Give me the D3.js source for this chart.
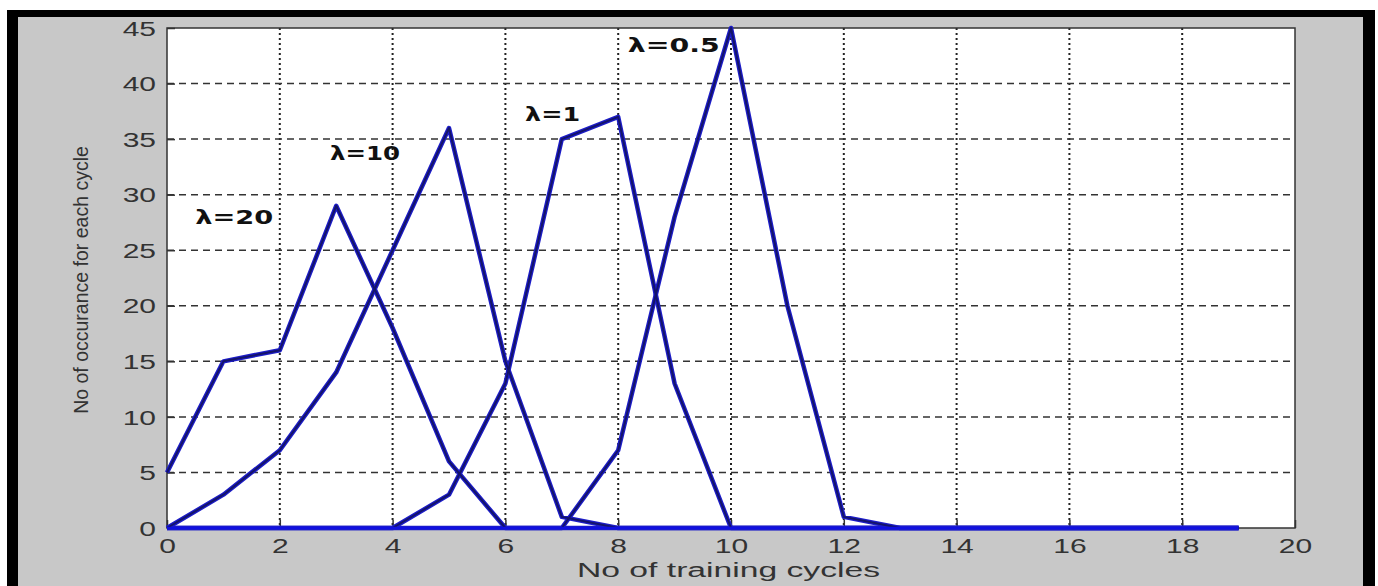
<!DOCTYPE html>
<html>
<head>
<meta charset="utf-8">
<script src="https://cdn.jsdelivr.net/npm/d3@7"></script>
<style>
  body { margin: 0; background: #fff; }
  svg { display: block; }
</style>
</head>
<body>
<div id="chart"></div>
<script>
// training cycles 0..19
const cycles = d3.range(0, 20);

// occurrences per cycle, one array per lambda
const lambda20 = [5, 15, 16, 29, 18, 6, 0, 0, 0, 0, 0, 0, 0, 0, 0, 0, 0, 0, 0, 0];
const lambda10 = [0, 3, 7, 14, 25, 36, 15, 1, 0, 0, 0, 0, 0, 0, 0, 0, 0, 0, 0, 0];
const lambda1  = [0, 0, 0, 0, 0, 3, 13, 35, 37, 13, 0, 0, 0, 0, 0, 0, 0, 0, 0, 0];
const lambda05 = [0, 0, 0, 0, 0, 0, 0, 0, 7, 28, 45, 20, 1, 0, 0, 0, 0, 0, 0, 0];

const seriesNames = ["λ=20", "λ=10", "λ=1", "λ=0.5"];
const seriesValues = [lambda20, lambda10, lambda1, lambda05];

// where each annotation sits, in data units
const labelX = [0.5, 2.89, 6.35, 8.17];
const labelY = [27.4, 33.1, 36.6, 42.8];
const labelW = [78, 70, 55, 92];

const xTicks = d3.range(0, 21, 2);
const yTicks = d3.range(0, 46, 5);

const width = 1378;
const height = 586;
const plot = { left: 167, right: 1295, top: 28, bottom: 528 };

const svg = d3.select("#chart").append("svg")
    .attr("width", width)
    .attr("height", height);

// frame: black border with gray figure background
svg.append("rect").attr("x", 0).attr("y", 0).attr("width", width).attr("height", height).attr("fill", "#fff");
svg.append("rect").attr("x", 7).attr("y", 10).attr("width", 1368).attr("height", 600).attr("fill", "#000");
svg.append("rect").attr("x", 18).attr("y", 17).attr("width", 1345).attr("height", 600).attr("fill", "#c8c8c8");

const x = d3.scaleLinear().domain([0, 20]).range([plot.left, plot.right]);
const y = d3.scaleLinear().domain([0, 45]).range([plot.bottom, plot.top]);

svg.append("rect")
    .attr("x", plot.left).attr("y", plot.top)
    .attr("width", plot.right - plot.left).attr("height", plot.bottom - plot.top)
    .attr("fill", "#fff");

// grid: dotted verticals, dashed horizontals
const grid = svg.append("g");
grid.selectAll("line.v")
    .data(xTicks.slice(1, -1))
    .enter().append("line")
    .attr("x1", d => x(d)).attr("x2", d => x(d))
    .attr("y1", plot.top).attr("y2", plot.bottom)
    .attr("stroke", "#222").attr("stroke-width", 2)
    .attr("stroke-dasharray", "2,3");
grid.selectAll("line.h")
    .data(yTicks.slice(1, -1))
    .enter().append("line")
    .attr("x1", plot.left).attr("x2", plot.right)
    .attr("y1", d => y(d)).attr("y2", d => y(d))
    .attr("stroke", "#333").attr("stroke-width", 1.5)
    .attr("stroke-dasharray", "7,5");

// axes with inward ticks
const xAxis = svg.append("g")
    .attr("transform", "translate(0," + plot.bottom + ")")
    .call(d3.axisBottom(x).tickValues(xTicks).tickSize(-8).tickPadding(12));
const yAxis = svg.append("g")
    .attr("transform", "translate(" + plot.left + ",0)")
    .call(d3.axisLeft(y).tickValues(yTicks).tickSize(-8).tickPadding(11));

[xAxis, yAxis].forEach(function (a) {
    a.select(".domain").remove();
    a.selectAll(".tick line").attr("stroke", "#333").attr("stroke-width", 1.5);
    a.selectAll(".tick text")
        .attr("fill", "#333")
        .style("font-family", "'Liberation Sans', Arial, sans-serif")
        .style("font-size", "20px");
});
xAxis.selectAll(".tick text").attr("dy", null).attr("y", 25);
yAxis.selectAll(".tick text").attr("dy", "0.36em");

// stretch digits horizontally like the reference
svg.selectAll(".tick text").each(function () {
    const w = this.getComputedTextLength();
    d3.select(this).attr("textLength", w * 1.5).attr("lengthAdjust", "spacingAndGlyphs");
});

// plot box
svg.append("rect")
    .attr("x", plot.left).attr("y", plot.top)
    .attr("width", plot.right - plot.left).attr("height", plot.bottom - plot.top)
    .attr("fill", "none").attr("stroke", "#333").attr("stroke-width", 1.5);

// series lines
const line = d3.line()
    .x((d, i) => x(cycles[i]))
    .y(d => y(d));

const lines = svg.append("g");
lines.selectAll("path.under")
    .data(seriesValues)
    .enter().append("path")
    .attr("d", line)
    .attr("fill", "none")
    .attr("stroke", "#1c1cc8")
    .attr("stroke-width", 4.5)
    .attr("stroke-linejoin", "round");
lines.selectAll("path.core")
    .data(seriesValues)
    .enter().append("path")
    .attr("d", line)
    .attr("fill", "none")
    .attr("stroke", "#14146a")
    .attr("stroke-width", 2)
    .attr("stroke-linejoin", "round");

// baseline drawn in plain blue
svg.append("line")
    .attr("x1", x(0)).attr("x2", x(19))
    .attr("y1", y(0)).attr("y2", y(0))
    .attr("stroke", "#1010e0").attr("stroke-width", 2.5);

// lambda annotations
svg.append("g").selectAll("text")
    .data(seriesNames)
    .enter().append("text")
    .attr("x", (d, i) => x(labelX[i]))
    .attr("y", (d, i) => y(labelY[i]))
    .attr("textLength", (d, i) => labelW[i])
    .attr("lengthAdjust", "spacingAndGlyphs")
    .style("font-family", "'DejaVu Sans', sans-serif")
    .style("font-weight", "bold")
    .style("font-size", "19px")
    .attr("fill", "#111")
    .text(d => d);

// axis titles
svg.append("text")
    .attr("x", 577).attr("y", 577)
    .attr("textLength", 303)
    .attr("lengthAdjust", "spacingAndGlyphs")
    .style("font-family", "'Liberation Sans', Arial, sans-serif")
    .style("font-size", "19.5px")
    .attr("fill", "#333")
    .text("No of training cycles");

svg.append("text")
    .attr("transform", "translate(88," + ((plot.top + plot.bottom) / 2 + 2) + ") rotate(-90)")
    .attr("text-anchor", "middle")
    .style("font-family", "'Liberation Sans', Arial, sans-serif")
    .style("font-size", "19.5px")
    .attr("fill", "#333")
    .text("No of occurance for each cycle");
</script>
</body>
</html>
